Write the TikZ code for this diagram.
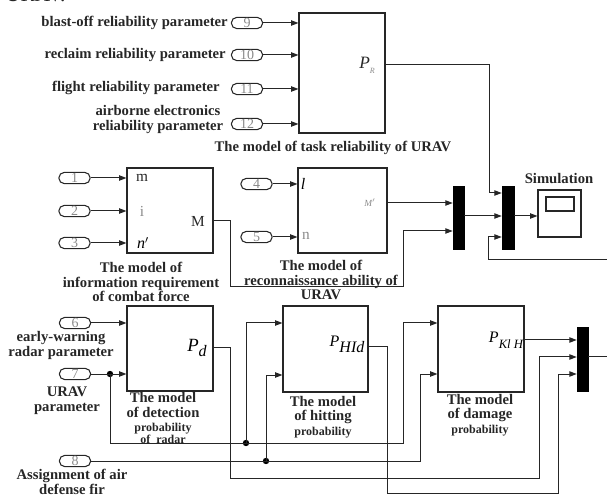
\documentclass[tikz,border=0pt]{standalone}
\usepackage{fontspec}
\setmainfont{Liberation Serif}
\usetikzlibrary{arrows.meta}
\definecolor{ln}{HTML}{262626}
\definecolor{pg}{HTML}{8A8A8A}
\tikzset{
 port/.style={draw=ln, line width=0.8pt, rounded corners=4.2pt, minimum width=23.5pt, minimum height=8.5pt, inner sep=0pt, font=\fontsize{10.5}{10.5}\selectfont, text=pg},
 blk/.style={draw=ln, line width=0.8pt, inner sep=0pt},
 mux/.style={fill=black, draw=black, inner sep=0pt},
 wire/.style={draw=ln, line width=0.75pt},
 arr/.style={wire, -{Triangle[length=5.5pt,width=4pt]}},
 lbl/.style={font=\fontsize{11}{11}\selectfont\bfseries, text=ln, inner sep=0pt, align=center},
 inl/.style={font=\fontsize{11.5}{11.5}\selectfont, text=ln, inner sep=0pt},
 dot/.style={circle, fill=black, inner sep=0pt, minimum size=4.8pt},
}
\newcommand{\smallcap}[1]{{\fontsize{9}{9}\selectfont #1}}
\begin{document}
\begin{tikzpicture}[x=0.75pt,y=-0.75pt]
\useasboundingbox (0,0) rectangle (607,495);
\clip (0,0) rectangle (607,495);
% cut-off title fragment
\node[anchor=base west, inner sep=0pt, font=\fontsize{16}{16}\selectfont, text=ln] (frag) at (5,2) {URAV.};

% ---- blocks
\node[blk, minimum width=64.5pt, minimum height=90pt] (task) at (342,73) {};
\node[blk, minimum width=64.5pt, minimum height=63.75pt] (info) at (170,210.5) {};
\node[blk, minimum width=66.75pt, minimum height=63.75pt] (recon) at (342.5,210.5) {};
\node[blk, minimum width=64.5pt, minimum height=63.75pt] (det) at (170,348.5) {};
\node[blk, minimum width=63.75pt, minimum height=64.5pt] (hit) at (325.5,349) {};
\node[blk, minimum width=64.5pt, minimum height=64.5pt] (dmg) at (481,349) {};
\node[mux, minimum width=8.25pt, minimum height=47.25pt] (mux1) at (458.5,217.5) {};
\node[mux, minimum width=9pt, minimum height=47.25pt] (mux2) at (508,217.5) {};
\node[mux, minimum width=8.25pt, minimum height=48pt] (mux3) at (582.5,359) {};
\node[blk, minimum width=32.25pt, minimum height=35.25pt] (scope) at (559.5,213.5) {};
\node[blk, minimum width=21pt, minimum height=10.5pt] (screen) at (560,204) {};

% ---- ports
\node[port] (p9) at (247,23) {9};
\node[port] (p10) at (247,55) {10};
\node[port] (p11) at (247,89) {11};
\node[port] (p12) at (247,124) {12};
\node[port] (p1) at (74.5,178) {1};
\node[port] (p2) at (74.5,211) {2};
\node[port] (p3) at (74.5,243) {3};
\node[port] (p4) at (256.5,184) {4};
\node[port] (p5) at (256.5,237) {5};
\node[port] (p6) at (75,323) {6};
\node[port] (p7) at (75,374) {7};
\node[port] (p8) at (75,461) {8};

% ---- labels inside blocks
\node[inl, font=\fontsize{13}{13}\selectfont\itshape] (lPR) at (367,65) {P\raisebox{-0.6ex}{\fontsize{6}{6}\selectfont\color{pg}R}};
\node[inl] (lm) at (142,178) {m};
\node[inl, text=pg] (li) at (142,211) {i};
\node[inl, font=\fontsize{12}{12}\selectfont\itshape, text=black] (ln3) at (143,243) {n$'$};
\node[inl] (lM) at (198,221) {M};
\node[inl, font=\fontsize{12}{12}\selectfont\itshape, text=black] (ll) at (303,184) {l};
\node[inl, text=pg] (lnn) at (306,236) {n};
\node[inl, font=\fontsize{7}{7}\selectfont\itshape, text=pg] (lMp) at (370,203) {M$'$};
\node[inl, font=\fontsize{14}{14}\selectfont\itshape, text=black] (lPd) at (197,348) {P\raisebox{-0.6ex}{\fontsize{12}{12}\selectfont d}};
\node[inl, font=\fontsize{12}{12}\selectfont\itshape, text=black] (lPH) at (347,344) {P\raisebox{-0.8ex}{HId}};
\node[inl, font=\fontsize{12}{12}\selectfont\itshape, text=black] (lPK) at (506,340) {P\raisebox{-0.8ex}{\fontsize{9.5}{9.5}\selectfont Kl H}};

% ---- outer labels
\node[lbl, anchor=east] (t9) at (228,23) {blast-off reliability parameter};
\node[lbl, anchor=east] (t10) at (226,55) {reclaim reliability parameter};
\node[lbl, anchor=east] (t11) at (220,88) {flight reliability parameter};
\node[lbl] (t12) at (158,119.5) {airborne electronics\\reliability parameter};
\node[lbl] (ctask) at (333,148) {The model of task reliability of URAV};
\node[lbl] (cinfo) at (141,282) {The model of\\information requirement\\of combat force};
\node[lbl] (crecon) at (321,280) {The model of\\reconnaissance ability of\\URAV};
\node[lbl] (csim) at (559,179) {Simulation};
\node[lbl] (t6) at (61,345.5) {early-warning\\radar parameter};
\node[lbl] (t7) at (67,400.5) {URAV\\parameter};
\node[lbl] (t8) at (72,482) {Assignment of air\\defense fir};
\node[lbl] (cdet) at (163,418) {The model\\of detection\\\smallcap{probability}\\[-2pt]\smallcap{of\ \ radar}};
\node[lbl] (chit) at (323,417) {The model\\of hitting\\\smallcap{probability}};
\node[lbl] (cdmg) at (480,415) {The model\\of damage\\\smallcap{probability}};

% ---- connectors, top
\draw[arr] (p9) -- (p9 -| task.west);
\draw[arr] (p10) -- (p10 -| task.west);
\draw[arr] (p11) -- (p11 -| task.west);
\draw[arr] (p12) -- (p12 -| task.west);
\draw[arr] (p1) -- (p1 -| info.west);
\draw[arr] (p2) -- (p2 -| info.west);
\draw[arr] (p3) -- (p3 -| info.west);
\draw[arr] (p4) -- (p4 -| recon.west);
\draw[arr] (p5) -- (p5 -| recon.west);
\draw[arr] (info.east |- lM) -| (230,287) -| (403,231) -- (mux1.west |- 0,231);
\draw[arr] (recon.east |- lMp) -- (mux1.west |- lMp);
\draw[arr] (mux1.east |- 0,216) -- (mux2.west |- 0,216);
\draw[arr] (task.east |- lPR) -| (489,193) -- (mux2.west |- 0,193);
\coordinate (fb) at (607,260);
\draw[arr] (fb) -| (488,237) -- (mux2.west |- 0,237);
\draw[arr] (mux2.east |- 0,216) -- (scope.west |- 0,216);

% ---- connectors, bottom
\node[dot] (j7) at (110,374) {};
\node[dot] (j1) at (246,443) {};
\node[dot] (j2) at (266,461) {};
\draw[arr] (p6) -- (p6 -| det.west);
\draw[arr] (p7) -- (p7 -| det.west);
\draw[arr] (j7.center) |- (403,443) |- (dmg.west |- 0,323);
\draw[arr] (j1.center) |- (hit.west |- 0,323);
\draw[arr] (p8) -- (420,461) |- (dmg.west |- 0,374);
\draw[arr] (j2.center) |- (hit.west |- 0,375);
\draw[arr] (det.east |- lPd) -| (230,478) -| (539,357) -- (mux3.west |- 0,357);
\draw[arr] (hit.east |- 0,347) -| (387,493) -| (558,374) -- (mux3.west |- 0,374);
\draw[arr] (dmg.east |- lPK) -- (mux3.west |- lPK);
\coordinate (out3) at (607,357);
\draw[wire] (mux3.east |- out3) -- (out3);
\end{tikzpicture}
\end{document}
